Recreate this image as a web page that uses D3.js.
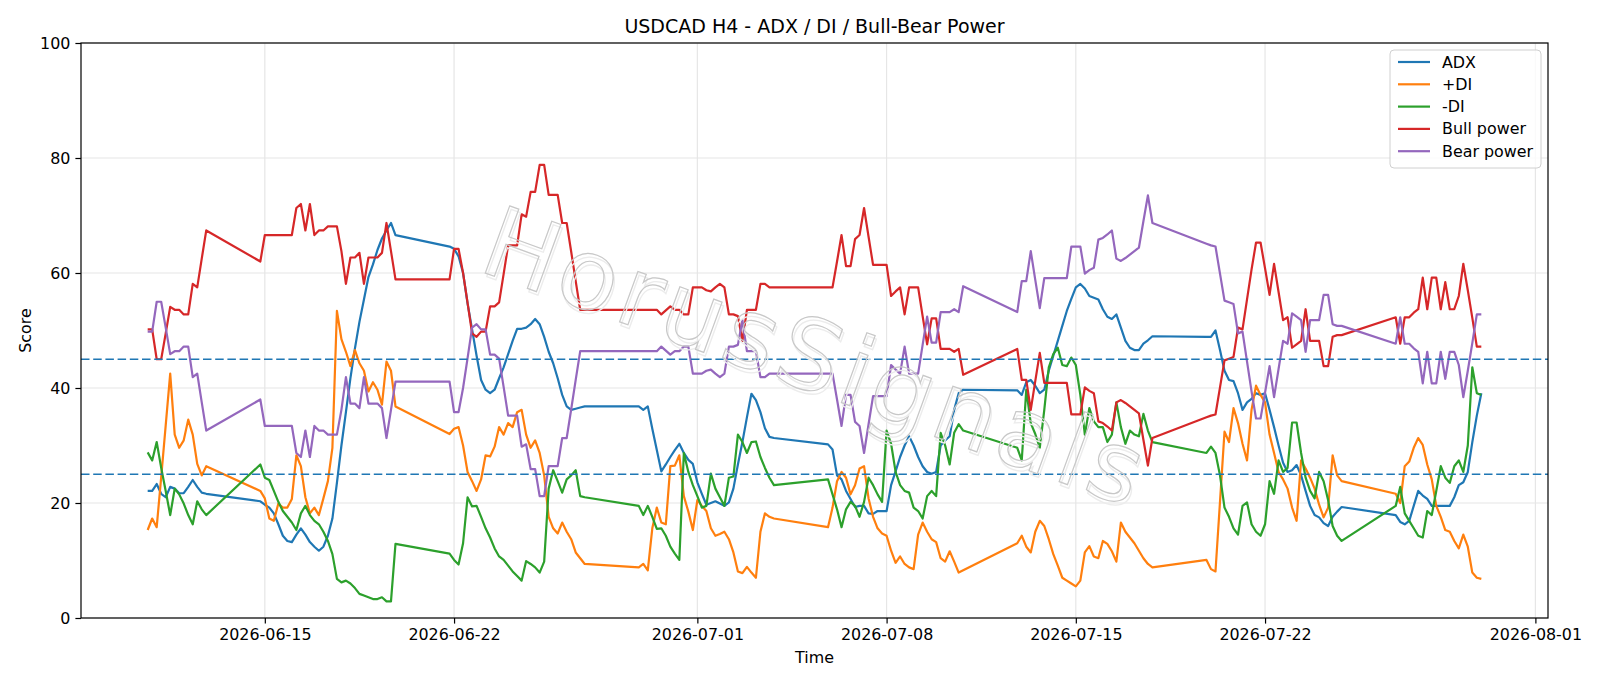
<!DOCTYPE html>
<html>
<head>
<meta charset="utf-8">
<script src="https://cdn.jsdelivr.net/npm/d3@7"></script>
<style>
  body { margin: 0; background: #fff; }
  svg text { font-family: "DejaVu Sans", sans-serif; }
</style>
</head>
<body>
<div id="chart"></div>
<script>
// H4 sessions (UTC start, number of 4h bars); weekends are skipped
var sessions = [
  ["2026-06-10T16:00:00Z", 14],
  ["2026-06-14T20:00:00Z", 31],
  ["2026-06-21T20:00:00Z", 31],
  ["2026-06-28T20:00:00Z", 31],
  ["2026-07-05T20:00:00Z", 31],
  ["2026-07-12T20:00:00Z", 31],
  ["2026-07-19T20:00:00Z", 31],
  ["2026-07-26T20:00:00Z", 20]
];

var adx = [
  22.1, 22.1, 23.3, 21.6, 21.0, 22.8, 22.5, 21.7, 21.7, 22.8, 24.0, 22.8, 21.8, 21.6,
  20.3, 19.7, 19.2, 18.2, 16.3, 14.3, 13.4, 13.2, 14.5, 15.6, 14.5, 13.2, 12.4,
  11.7, 12.4, 14.3, 17.3, 23.5, 30.0, 35.8, 41.7, 46.9, 51.5, 55.4, 59.3, 61.5, 64.0, 66.0, 67.4, 68.7, 66.6,
  64.6, 64.2, 62.9, 60.0, 54.7, 50.2, 45.6, 41.4, 39.7, 39.1, 39.7, 41.7, 43.6,
  45.9, 48.2, 50.3, 50.3, 50.5, 51.1, 52.0, 51.1, 48.9, 46.3, 44.3, 41.7, 38.8, 36.8, 36.2, 36.4, 36.6, 36.8,
  36.8, 36.2, 36.8, 32.9, 29.2, 25.5, 26.7, 28.0, 29.2, 30.3, 28.7, 27.5, 26.8,
  23.6, 21.6, 19.7, 20.0, 20.3, 19.9, 19.5, 20.1, 22.5, 26.7, 30.6, 34.9, 39.0, 37.9, 35.8, 33.0, 31.5, 31.3,
  30.2, 29.3, 24.8, 24.1, 22.1, 20.7, 19.3, 19.5, 19.5, 18.2, 18.1, 18.6, 18.6,
  18.6, 23.1, 25.5, 28.0, 30.0, 31.6, 30.0, 28.0, 26.4, 25.4, 25.1, 25.4, 30.0, 30.9, 31.6, 36.2, 39.1, 39.7,
  39.6, 38.8, 41.0, 41.4, 40.4, 39.1, 39.7, 43.0, 45.6, 48.2, 50.8, 53.4, 55.5,
  57.5, 58.1, 57.3, 56.0, 55.7, 55.4, 53.7, 52.4, 52.0, 52.8, 50.5, 48.2, 47.0, 46.6, 46.6, 47.7, 48.3, 49.0,
  48.9, 48.9, 50.0, 46.6, 43.0, 41.4, 41.2, 39.1, 36.2, 37.5, 38.1, 39.1, 38.8,
  39.1, 36.2, 33.2, 30.0, 27.0, 25.4, 25.7, 26.6, 24.8, 22.1, 19.5, 17.9, 17.5, 16.5, 16.0, 17.6, 18.5, 19.3,
  17.9, 16.7, 16.3, 16.9, 19.5, 22.1, 21.3, 20.7, 19.5, 19.5, 19.5, 19.5, 19.5,
  21.0, 23.1, 23.6, 25.4, 30.6, 35.2, 39.1
];

var plusDI = [
  15.3, 17.3, 15.8, 24.5, 33.5, 42.5, 31.9, 29.6, 30.9, 34.5, 31.9, 26.8, 24.8, 26.4,
  22.1, 20.8, 17.3, 16.9, 19.9, 19.2, 19.2, 20.7, 28.3, 26.4, 21.0, 18.2, 19.2,
  17.9, 20.8, 23.8, 29.6, 53.4, 48.5, 46.3, 43.8, 46.6, 44.3, 43.0, 39.4, 41.0, 39.7, 37.1, 44.6, 43.0, 36.8,
  32.0, 32.9, 33.2, 30.0, 25.4, 23.8, 22.1, 24.1, 28.3, 28.1, 29.8, 33.2, 31.9,
  33.9, 33.2, 35.8, 36.2, 31.9, 29.6, 30.9, 28.7, 24.8, 17.6, 15.6, 14.7, 16.6, 15.0, 13.7, 11.4, 10.4, 9.4,
  8.8, 9.4, 8.3, 15.6, 19.2, 16.6, 16.3, 26.4, 26.5, 28.3, 21.2, 18.5, 15.3,
  20.5, 19.5, 18.6, 15.6, 14.3, 14.6, 15.0, 13.7, 11.4, 8.1, 7.8, 8.9, 7.9, 7.0, 15.0, 18.2, 17.6, 17.3,
  15.8, 19.2, 23.8, 25.4, 24.4, 21.5, 23.1, 26.0, 26.4, 20.8, 17.6, 15.6, 14.7,
  14.3, 11.7, 9.6, 10.7, 9.4, 8.8, 8.5, 14.5, 16.6, 15.0, 13.7, 13.2, 10.4, 9.8, 11.6, 9.8, 7.9, 8.3,
  13.0, 14.3, 12.4, 11.4, 15.0, 16.9, 16.0, 13.7, 11.1, 9.1, 7.0, 6.5, 6.0,
  5.5, 6.5, 11.4, 12.5, 10.7, 10.4, 13.4, 12.9, 11.6, 9.8, 16.6, 15.0, 14.0, 13.0, 11.7, 10.4, 9.4, 8.8,
  10.1, 8.5, 8.1, 20.2, 32.4, 30.6, 36.5, 33.9, 30.3, 27.4, 36.2, 40.4, 38.8,
  37.5, 31.9, 28.7, 25.4, 24.1, 22.5, 19.2, 16.9, 27.4, 26.0, 24.4, 22.5, 19.7, 17.5, 19.2, 28.3, 24.8, 23.8,
  21.6, 20.0, 26.4, 27.2, 29.6, 31.3, 30.1, 26.7, 24.1, 19.5, 17.6, 15.3, 15.0,
  13.4, 12.1, 14.5, 12.4, 7.9, 7.0, 6.8
];

var minusDI = [
  28.8, 27.4, 30.6, 26.1, 22.1, 17.9, 22.5, 21.5, 19.9, 17.9, 16.3, 20.3, 18.9, 17.9,
  26.7, 24.4, 24.0, 22.1, 20.2, 18.6, 17.6, 16.6, 15.3, 18.2, 19.5, 17.9, 16.9,
  16.3, 15.0, 13.4, 11.1, 6.8, 6.2, 6.5, 6.0, 5.2, 4.2, 3.9, 3.6, 3.3, 3.3, 3.6, 2.9, 2.9, 12.9,
  11.2, 10.1, 9.3, 13.0, 21.0, 19.4, 19.5, 17.6, 15.6, 14.0, 12.1, 10.7, 10.1,
  9.1, 8.1, 7.3, 6.5, 9.9, 9.4, 8.8, 7.9, 9.8, 22.5, 25.7, 23.8, 21.8, 24.1, 24.8, 25.7, 21.2, 21.0,
  19.5, 17.9, 19.5, 17.6, 15.5, 15.6, 14.3, 12.4, 11.2, 10.1, 28.7, 25.4, 23.1,
  21.2, 19.2, 19.5, 25.1, 22.5, 21.0, 19.5, 24.4, 24.6, 31.9, 30.6, 28.7, 30.6, 30.7, 28.0, 26.1, 24.4, 23.1,
  24.1, 21.5, 18.9, 15.8, 18.9, 20.2, 19.5, 17.6, 20.2, 24.4, 23.1, 21.5, 20.2,
  32.6, 30.3, 25.4, 23.1, 22.1, 21.8, 19.2, 18.6, 17.3, 21.2, 22.1, 21.2, 32.2, 30.0, 26.7, 32.2, 33.7, 32.6,
  29.6, 27.4, 39.7, 33.9, 32.0, 29.6, 36.2, 43.6, 45.9, 47.0, 44.0, 43.8, 45.3,
  44.0, 38.8, 31.9, 36.5, 34.2, 33.2, 33.2, 30.6, 31.9, 37.5, 33.2, 30.3, 32.6, 31.9, 31.6, 35.5, 32.6, 30.6,
  28.7, 29.8, 28.7, 24.8, 19.2, 17.6, 15.6, 14.5, 19.5, 20.1, 16.3, 15.0, 14.3,
  16.3, 23.8, 21.6, 27.4, 25.4, 26.1, 34.0, 34.0, 28.7, 24.4, 22.1, 20.8, 25.4, 23.8, 20.5, 16.0, 14.3, 13.4,
  19.5, 22.8, 18.2, 16.9, 15.6, 14.3, 14.0, 18.6, 17.9, 22.1, 26.4, 24.4, 23.5,
  26.4, 27.4, 25.4, 30.0, 43.6, 39.1, 38.8
];

var bullPower = [
  50.2, 50.2, 45.0, 45.0, 49.5, 54.1, 53.6, 53.6, 52.8, 52.8, 58.1, 57.5, 62.5, 67.4,
  62.0, 66.6, 66.6, 66.6, 66.6, 66.6, 66.6, 66.6, 71.3, 72.0, 67.4, 72.0, 66.6,
  67.4, 67.4, 68.1, 68.1, 68.1, 63.8, 58.1, 62.7, 62.7, 63.5, 58.1, 62.7, 62.7, 62.7, 63.5, 68.7, 63.8, 58.9,
  58.9, 64.2, 64.2, 60.0, 54.8, 49.5, 48.9, 49.8, 49.8, 54.2, 54.2, 54.9, 59.8,
  64.8, 64.8, 64.8, 70.2, 69.8, 74.1, 74.1, 78.8, 78.8, 73.6, 73.6, 73.6, 68.7, 68.7, 63.7, 58.6, 53.6, 53.6,
  53.6, 53.6, 53.6, 53.6, 53.6, 52.8, 53.5, 54.2, 53.6, 53.6, 52.8, 52.8, 57.5,
  57.5, 57.5, 57.0, 56.8, 57.5, 58.1, 57.5, 52.8, 52.8, 52.5, 48.2, 53.6, 53.6, 53.6, 58.1, 58.1, 57.5, 57.5,
  57.5, 57.5, 62.0, 66.6, 61.2, 61.2, 65.9, 66.6, 71.3, 66.3, 61.4, 61.4, 61.4,
  61.4, 56.0, 56.8, 57.5, 52.8, 57.5, 57.5, 57.5, 52.5, 47.6, 52.1, 52.1, 46.8, 46.8, 46.8, 46.3, 46.8, 42.3,
  46.8, 41.4, 41.4, 36.2, 41.2, 46.1, 40.9, 40.9, 40.9, 40.9, 40.9, 40.9, 35.4,
  35.4, 35.4, 40.1, 39.5, 39.1, 34.2, 33.9, 33.3, 32.6, 37.5, 37.9, 37.4, 36.8, 36.2, 35.6, 31.0, 26.5, 31.3,
  34.9, 35.2, 35.4, 40.1, 44.8, 45.1, 45.4, 50.5, 50.2, 55.4, 60.6, 65.3, 65.3,
  60.8, 56.2, 61.6, 56.7, 51.8, 52.3, 47.0, 47.6, 48.2, 53.7, 48.2, 48.2, 48.2, 43.8, 43.8, 48.9, 49.2, 49.2,
  52.3, 47.7, 52.3, 52.3, 53.1, 53.7, 59.2, 53.7, 59.2, 59.2, 53.7, 58.4, 53.7,
  53.7, 56.0, 61.6, 57.0, 52.2, 47.2, 47.2
];

var bearPower = [
  49.8, 49.8, 55.0, 55.0, 50.5, 45.9, 46.4, 46.4, 47.2, 47.2, 41.9, 42.5, 37.5, 32.6,
  38.0, 33.4, 33.4, 33.4, 33.4, 33.4, 33.4, 33.4, 28.7, 28.0, 32.6, 28.0, 33.4,
  32.6, 32.6, 31.9, 31.9, 31.9, 36.2, 41.9, 37.3, 37.3, 36.5, 41.9, 37.3, 37.3, 37.3, 36.5, 31.3, 36.2, 41.1,
  41.1, 35.8, 35.8, 40.0, 45.2, 50.5, 51.1, 50.2, 50.2, 45.8, 45.8, 45.1, 40.2,
  35.2, 35.2, 35.2, 29.8, 30.2, 25.9, 25.9, 21.2, 21.2, 26.4, 26.4, 26.4, 31.3, 31.3, 36.3, 41.4, 46.4, 46.4,
  46.4, 46.4, 46.4, 46.4, 46.4, 47.2, 46.5, 45.8, 46.4, 46.4, 47.2, 47.2, 42.5,
  42.5, 42.5, 43.0, 43.2, 42.5, 41.9, 42.5, 47.2, 47.2, 47.5, 51.8, 46.4, 46.4, 46.4, 41.9, 41.9, 42.5, 42.5,
  42.5, 42.5, 38.0, 33.4, 38.8, 38.8, 34.1, 33.4, 28.7, 33.7, 38.6, 38.6, 38.6,
  38.6, 44.0, 43.2, 42.5, 47.2, 42.5, 42.5, 42.5, 47.5, 52.4, 47.9, 47.9, 53.2, 53.2, 53.2, 53.7, 53.2, 57.7,
  53.2, 58.6, 58.6, 63.8, 58.8, 53.9, 59.1, 59.1, 59.1, 59.1, 59.1, 59.1, 64.6,
  64.6, 64.6, 59.9, 60.5, 60.9, 65.8, 66.1, 66.7, 67.4, 62.5, 62.1, 62.6, 63.2, 63.8, 64.4, 69.0, 73.5, 68.7,
  65.1, 64.8, 64.6, 59.9, 55.2, 54.9, 54.6, 49.5, 49.8, 44.6, 39.4, 34.7, 34.7,
  39.2, 43.8, 38.4, 43.3, 48.2, 47.7, 53.0, 52.4, 51.8, 46.3, 51.8, 51.8, 51.8, 56.2, 56.2, 51.1, 50.8, 50.8,
  47.7, 52.3, 47.7, 47.7, 46.9, 46.3, 40.8, 46.3, 40.8, 40.8, 46.3, 41.6, 46.3,
  46.3, 44.0, 38.4, 43.0, 47.8, 52.8, 52.8
];

var seriesNames = ["ADX", "+DI", "-DI", "Bull power", "Bear power"];
var seriesColors = ["#1f77b4", "#ff7f0e", "#2ca02c", "#d62728", "#9467bd"];
var thresholds = [25, 45];
var yTicks = [0, 20, 40, 60, 80, 100];
var xTickLabels = ["2026-06-15", "2026-06-22", "2026-07-01", "2026-07-08", "2026-07-15", "2026-07-22", "2026-08-01"];

var width = 1600, height = 686;
var margin = {top: 43, right: 52, bottom: 68, left: 81};

// build the bar times
var times = [];
sessions.forEach(function(s) {
  var start = new Date(s[0]);
  for (var i = 0; i < s[1]; i++) times.push(d3.utcHour.offset(start, 4 * i));
});

var svg = d3.select("#chart").append("svg")
    .attr("width", width)
    .attr("height", height);

var t0 = times[0], t1 = times[times.length - 1];
var pad = (t1 - t0) * 0.05;

var x = d3.scaleUtc()
    .domain([new Date(+t0 - pad), new Date(+t1 + pad)])
    .range([margin.left, width - margin.right]);

var y = d3.scaleLinear()
    .domain([0, 100])
    .range([height - margin.bottom, margin.top]);

var parseDay = d3.utcParse("%Y-%m-%d");
var xTicks = xTickLabels.map(parseDay);

// grid
svg.append("g").selectAll("line")
    .data(xTicks)
  .enter().append("line")
    .attr("x1", function(d) { return x(d); })
    .attr("x2", function(d) { return x(d); })
    .attr("y1", y(0)).attr("y2", y(100))
    .attr("stroke", "#e6e6e6").attr("stroke-width", 1.2);

svg.append("g").selectAll("line")
    .data(yTicks)
  .enter().append("line")
    .attr("x1", x.range()[0]).attr("x2", x.range()[1])
    .attr("y1", function(d) { return y(d); })
    .attr("y2", function(d) { return y(d); })
    .attr("stroke", "#e6e6e6").attr("stroke-width", 1.2);

// series lines
var allSeries = [adx, plusDI, minusDI, bullPower, bearPower];

var line = d3.line()
    .x(function(d, i) { return x(times[i]); })
    .y(function(d) { return y(d); });

svg.append("g").selectAll("path")
    .data(allSeries)
  .enter().append("path")
    .attr("d", line)
    .attr("fill", "none")
    .attr("stroke", function(d, i) { return seriesColors[i]; })
    .attr("stroke-width", 2.2)
    .attr("stroke-linejoin", "round");

// threshold lines
svg.append("g").selectAll("line")
    .data(thresholds)
  .enter().append("line")
    .attr("x1", x.range()[0]).attr("x2", x.range()[1])
    .attr("y1", function(d) { return y(d); })
    .attr("y2", function(d) { return y(d); })
    .attr("stroke", "#1f77b4")
    .attr("stroke-width", 1.6)
    .attr("stroke-dasharray", "8.5,3.7");

// axes
var xAxis = d3.axisBottom(x)
    .tickValues(xTicks)
    .tickFormat(d3.utcFormat("%Y-%m-%d"))
    .tickSizeOuter(0)
    .tickSize(5.6)
    .tickPadding(5);

var yAxis = d3.axisLeft(y)
    .tickValues(yTicks)
    .tickSizeOuter(0)
    .tickSize(5.6)
    .tickPadding(5);

var gx = svg.append("g")
    .attr("transform", "translate(0," + y(0) + ")")
    .call(xAxis);
var gy = svg.append("g")
    .attr("transform", "translate(" + margin.left + ",0)")
    .call(yAxis);

[gx, gy].forEach(function(g) {
  g.select(".domain").remove();
  g.selectAll("text")
    .attr("font-family", "DejaVu Sans")
    .attr("font-size", 15.9)
    .attr("fill", "#000");
  g.selectAll("line").attr("stroke", "#000").attr("stroke-width", 1.2);
});

// frame
svg.append("rect")
    .attr("x", x.range()[0]).attr("y", y(100))
    .attr("width", x.range()[1] - x.range()[0])
    .attr("height", y(0) - y(100))
    .attr("fill", "none")
    .attr("stroke", "#000")
    .attr("stroke-width", 1.2);

// watermark (hollow letters with a faint shadow)
var wm = svg.append("g")
    .attr("transform", "translate(814,364) rotate(20)")
    .attr("font-family", "Liberation Sans")
    .attr("font-size", 98)
    .attr("letter-spacing", 5)
    .attr("text-anchor", "middle")
    .attr("dominant-baseline", "middle")
    .attr("fill", "none");

wm.append("text")
    .attr("x", 2.5).attr("y", 3)
    .attr("stroke", "#ececec")
    .attr("stroke-width", 1.3)
    .text("HorusSignals");

wm.append("text")
    .attr("stroke", "#c8c8c8")
    .attr("stroke-width", 1.2)
    .text("HorusSignals");

// legend
var legend = svg.append("g")
    .attr("transform", "translate(1390,50)");

legend.append("rect")
    .attr("width", 151).attr("height", 118)
    .attr("rx", 4)
    .attr("fill", "#fff").attr("fill-opacity", 0.8)
    .attr("stroke", "#d0d0d0");

var item = legend.selectAll(".item")
    .data(seriesNames)
  .enter().append("g")
    .attr("class", "item")
    .attr("transform", function(d, i) { return "translate(0," + (12 + i * 22.3) + ")"; });

item.append("line")
    .attr("x1", 8).attr("x2", 40)
    .attr("stroke", function(d, i) { return seriesColors[i]; })
    .attr("stroke-width", 2.2);

item.append("text")
    .attr("x", 52)
    .attr("dy", "0.35em")
    .attr("font-size", 15.9)
    .text(function(d) { return d; });

// titles
svg.append("text")
    .attr("x", (x.range()[0] + x.range()[1]) / 2)
    .attr("y", 33)
    .attr("text-anchor", "middle")
    .attr("font-size", 19)
    .text("USDCAD H4 - ADX / DI / Bull-Bear Power");

svg.append("text")
    .attr("x", (x.range()[0] + x.range()[1]) / 2)
    .attr("y", 663)
    .attr("text-anchor", "middle")
    .attr("font-size", 15.9)
    .text("Time");

svg.append("text")
    .attr("transform", "translate(31," + (y(50)) + ") rotate(-90)")
    .attr("text-anchor", "middle")
    .attr("font-size", 15.9)
    .text("Score");
</script>
</body>
</html>
